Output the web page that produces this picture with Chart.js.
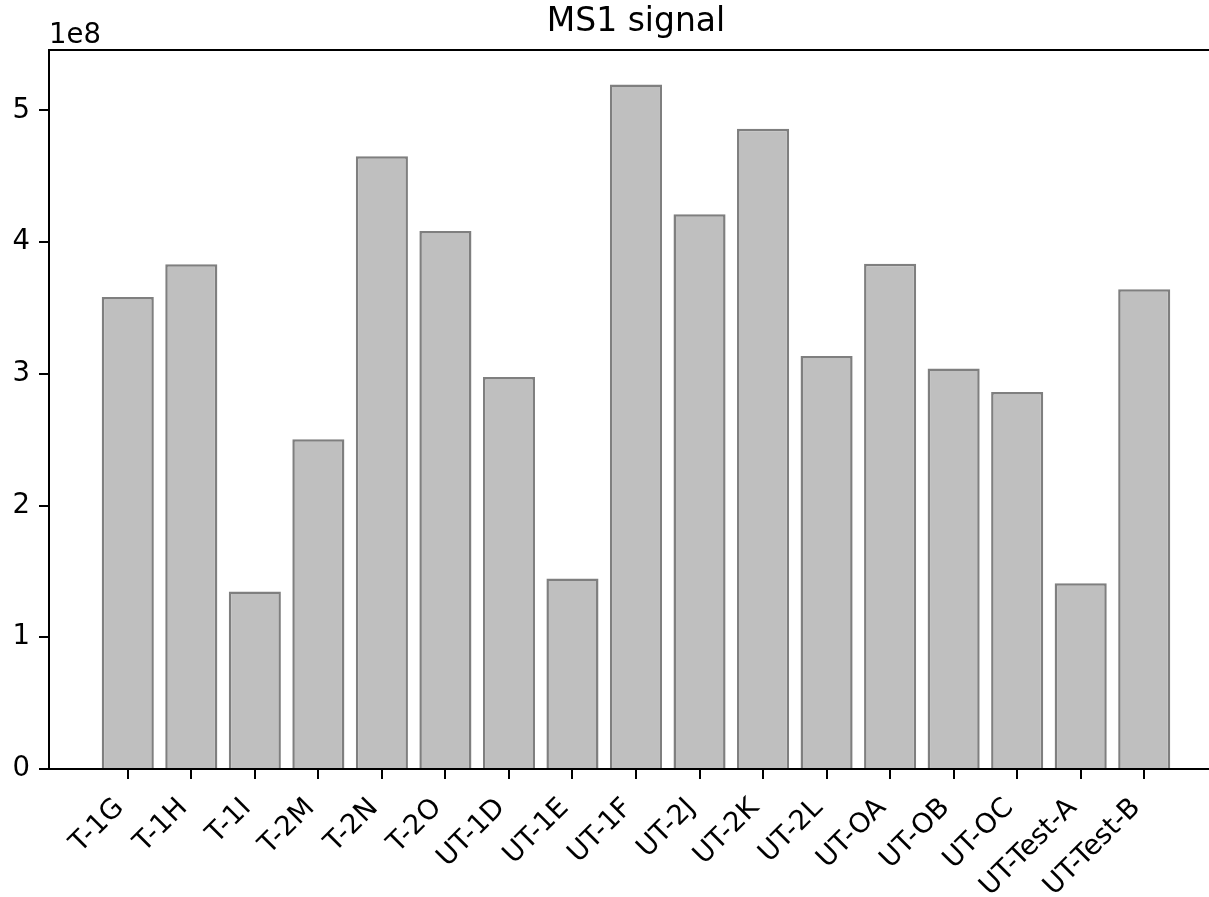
<!DOCTYPE html>
<html>
<head>
<meta charset="utf-8">
<script src="https://cdn.jsdelivr.net/npm/chart.js@4"></script>
<style>
  html, body { margin: 0; padding: 0; background: #fff; overflow: hidden; }
  #wrap { width: 1240px; height: 897px; }
</style>
</head>
<body>
<div id="wrap"><canvas id="c" width="1240" height="897"></canvas></div>
<script>
const categories = ['T-1G','T-1H','T-1I','T-2M','T-2N','T-2O','UT-1D','UT-1E','UT-1F','UT-2J','UT-2K','UT-2L','UT-OA','UT-OB','UT-OC','UT-Test-A','UT-Test-B'];
const ms1Signal = [3.583e8, 3.832e8, 1.348e8, 2.504e8, 4.653e8, 4.084e8, 2.977e8, 1.447e8, 5.197e8, 4.211e8, 4.861e8, 3.136e8, 3.837e8, 3.040e8, 2.863e8, 1.410e8, 3.642e8];
const yTickValues = [0, 1e8, 2e8, 3e8, 4e8, 5e8];
const titleText = 'MS1 signal';
const offsetText = '1e8';

const FONT = "'DejaVu Sans', sans-serif";
const TICK_SIZE = 27.5;

const framePlugin = {
  id: 'frame',
  afterDraw(chart) {
    const {ctx, chartArea} = chart;
    ctx.save();
    ctx.strokeStyle = '#000';
    ctx.lineWidth = 2;
    ctx.beginPath();
    ctx.moveTo(chartArea.left - 1, chartArea.top);
    ctx.lineTo(chartArea.right, chartArea.top);
    ctx.stroke();
    ctx.fillStyle = '#000';
    ctx.font = TICK_SIZE + "px " + FONT;
    ctx.textAlign = 'left';
    ctx.textBaseline = 'alphabetic';
    ctx.fillText(offsetText, chartArea.left, chartArea.top - 7);
    ctx.restore();
  }
};

new Chart(document.getElementById('c'), {
  type: 'bar',
  data: {
    datasets: [{
      data: ms1Signal.map((v, i) => ({x: i, y: v})),
      backgroundColor: '#bfbfbf',
      borderColor: '#7f7f7f',
      borderWidth: 2.5,
      barPercentage: 1.0,
      categoryPercentage: 0.82
    }]
  },
  options: {
    responsive: false,
    animation: false,
    devicePixelRatio: 1,
    layout: { padding: { left: 0, right: 17, top: 0, bottom: 0 } },
    plugins: {
      legend: { display: false },
      tooltip: { enabled: false },
      title: {
        display: true,
        text: titleText,
        fullSize: false,
        color: '#000',
        font: { family: FONT, size: 33, weight: 'normal', lineHeight: 1.2 },
        padding: { top: 2.7, bottom: 7.7 }
      }
    },
    scales: {
      x: {
        type: 'linear',
        offset: false,
        min: -1.24,
        max: 17.24,
        afterBuildTicks(scale) { scale.ticks = categories.map((_, i) => ({value: i})); },
        afterFit(scale) { scale.height = 128; },
        border: { display: true, color: '#000', width: 2 },
        grid: { display: true, offset: false, drawOnChartArea: false, drawTicks: true, tickLength: 10, color: '#000', lineWidth: 2 },
        ticks: {
          autoSkip: false,
          minRotation: 45,
          maxRotation: 45,
          padding: 13,
          labelOffset: -8,
          color: '#000',
          font: { family: FONT, size: TICK_SIZE },
          callback: (v) => categories[v]
        }
      },
      y: {
        type: 'linear',
        min: 0,
        max: 5.459e8,
        afterBuildTicks(scale) { scale.ticks = yTickValues.map(v => ({value: v})); },
        afterFit(scale) { scale.width = 49; },
        border: { display: true, color: '#000', width: 2 },
        grid: { display: true, drawOnChartArea: false, drawTicks: true, tickLength: 10, color: '#000', lineWidth: 2 },
        ticks: {
          padding: 9,
          color: '#000',
          font: { family: FONT, size: TICK_SIZE },
          callback: (v) => String(Math.round(v / 1e8))
        }
      }
    }
  },
  plugins: [framePlugin]
});
</script>
</body>
</html>
